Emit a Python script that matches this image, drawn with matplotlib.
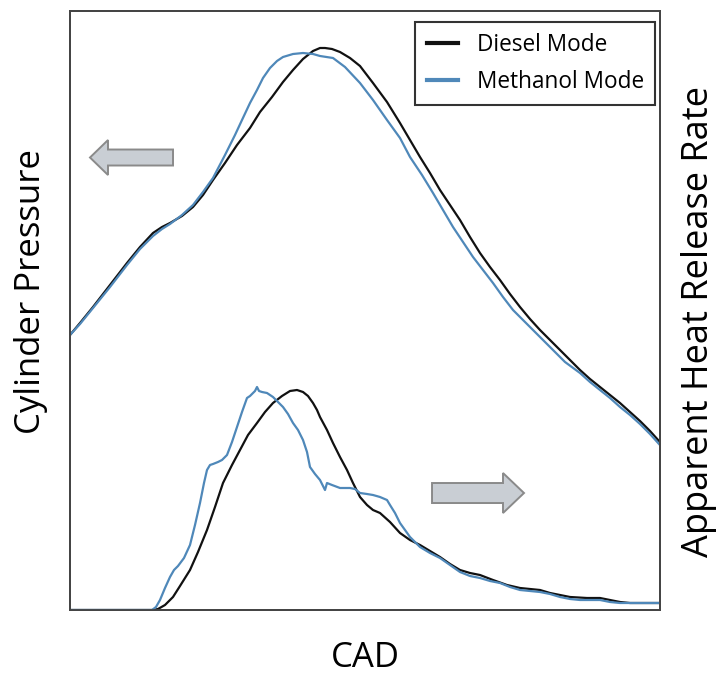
import matplotlib
matplotlib.use("Agg")
import matplotlib.pyplot as plt
from matplotlib.patches import Polygon

plt.rcParams['font.family'] = ['Open Sans', 'DejaVu Sans']

# Cylinder pressure (arbitrary units) vs crank angle (arbitrary units)
cad_p_diesel = [0, 10, 23, 40, 57, 70, 83, 92, 100, 112, 123, 133, 143, 155, 167, 180, 190,
                202, 213, 223, 233, 243, 250, 255, 262, 270, 280, 290, 303, 317, 330, 340,
                350, 360, 370, 380, 390, 400, 410, 420, 430, 440, 450, 460, 470, 480, 490,
                500, 510, 520, 530, 540, 550, 560, 570, 580, 589]
p_diesel = [275, 287, 303, 325, 347, 363, 377, 383, 387, 394, 403, 415, 430, 447, 465, 482, 498,
            513, 528, 540, 551, 559, 562, 562, 561, 558, 552, 544, 527, 508, 487, 470,
            453, 437, 420, 405, 390, 373, 357, 343, 330, 316, 303, 291, 280, 270, 260,
            250, 240, 231, 223, 215, 207, 198, 189, 179, 169]

cad_p_methanol = [0, 10, 23, 40, 57, 70, 83, 92, 100, 112, 123, 133, 143, 155, 165, 172, 180,
                  187, 193, 200, 207, 213, 223, 233, 243, 250, 263, 275, 290, 303, 317, 330,
                  340, 352, 363, 373, 383, 393, 403, 413, 423, 433, 443, 453, 463, 473, 483,
                  495, 510, 520, 530, 540, 550, 560, 570, 580, 589]
p_methanol = [275, 286, 302, 323, 345, 361, 374, 381, 386, 395, 405, 418, 432, 455, 475, 490, 507,
              520, 532, 542, 549, 553, 556, 557, 556, 554, 552, 543, 527, 510, 490, 472,
              453, 435, 417, 400, 383, 368, 353, 340, 327, 313, 300, 290, 280, 270, 260,
              248, 237, 228, 220, 212, 203, 195, 186, 176, 166]

# Apparent heat release rate (arbitrary units)
cad_h_diesel = [0, 83, 88, 95, 103, 110, 120, 128, 137, 145, 153, 162, 170, 178, 187, 195, 203,
                212, 220, 227, 233, 238, 243, 247, 250, 257, 263, 270, 277, 283, 290, 297,
                303, 310, 320, 330, 340, 350, 360, 370, 380, 390, 400, 410, 423, 437, 450,
                460, 470, 480, 490, 500, 517, 530, 540, 550, 560, 570, 589]
h_diesel = [0, 0, 1, 5, 13, 24, 40, 58, 80, 103, 127, 145, 160, 175, 187, 198, 207,
            214, 219, 220, 218, 214, 207, 200, 193, 180, 167, 153, 140, 127, 113, 105,
            100, 97, 88, 77, 70, 65, 59, 53, 46, 40, 37, 35, 30, 25, 22,
            21, 20, 17, 15, 13, 12, 12, 10, 8, 7, 7, 7]

cad_h_methanol = [0, 82, 86, 90, 95, 100, 104, 108, 114, 120, 125, 130, 134, 137, 140, 143, 148,
                  152, 157, 162, 167, 172, 177, 180, 182, 185, 187, 189, 192, 197, 203, 208,
                  213, 218, 223, 228, 233, 237, 240, 245, 250, 254, 255, 257, 262, 270, 280,
                  285, 290, 297, 303, 310, 317, 320, 325, 330, 340, 350, 360, 370, 380, 390,
                  400, 410, 420, 430, 440, 450, 460, 470, 480, 490, 500, 510, 520, 530, 540,
                  550, 570, 589]
h_methanol = [0, 0, 3, 10, 22, 33, 40, 44, 52, 65, 85, 107, 127, 140, 145, 146, 148,
              150, 155, 168, 183, 198, 212, 214, 216, 219, 223, 219, 218, 217, 213, 208,
              203, 196, 187, 180, 170, 158, 143, 136, 130, 122, 120, 127, 125, 122, 122,
              121, 117, 116, 115, 113, 110, 105, 97, 87, 73, 63, 57, 52, 45, 38,
              34, 32, 29, 27, 23, 20, 19, 18, 16, 13, 11, 10, 10, 10, 8,
              7, 7, 7]

series_labels = ["Diesel Mode", "Methanol Mode"]
c_diesel = "#111111"
c_methanol = "#4f88b9"

fig = plt.figure(figsize=(7.2, 6.77), dpi=100)
ax = fig.add_axes([70 / 720, 1 - 610 / 677, 590 / 720, 599 / 677])
ax2 = ax.twinx()

ax.plot(cad_p_diesel, p_diesel, color=c_diesel, lw=1.6, label=series_labels[0])
ax.plot(cad_p_methanol, p_methanol, color=c_methanol, lw=1.6, label=series_labels[1])
ax2.plot(cad_h_diesel, h_diesel, color=c_diesel, lw=1.6)
ax2.plot(cad_h_methanol, h_methanol, color=c_methanol, lw=1.6)

for a in (ax, ax2):
    a.set_xlim(0, 590)
    a.set_ylim(0, 599)
    a.set_xticks([])
    a.set_yticks([])
    for s in a.spines.values():
        s.set_color("#444444")
        s.set_linewidth(1.3)

ax.set_xlabel("CAD", fontsize=25, labelpad=22)
ax.set_ylabel("Cylinder Pressure", fontsize=25, labelpad=16, y=0.531)
ax2.set_ylabel("Apparent Heat Release Rate", fontsize=26, labelpad=15, y=0.481)


def block_arrow(axis, x_tail, x_tip, y, shaft_h, head_h, head_len):
    d = 1 if x_tip > x_tail else -1
    xb = x_tip - d * head_len
    verts = [(x_tail, y - shaft_h / 2), (xb, y - shaft_h / 2), (xb, y - head_h / 2),
             (x_tip, y), (xb, y + head_h / 2), (xb, y + shaft_h / 2),
             (x_tail, y + shaft_h / 2)]
    axis.add_patch(Polygon(verts, closed=True, transform=axis.transAxes,
                           facecolor="#c9ced4", edgecolor="#8a8a8a", lw=1.4,
                           zorder=5, clip_on=False))


# left arrow points to the pressure axis, right arrow to the heat release axis
block_arrow(ax2, 0.1746, 0.0339, 0.7554, 0.0267, 0.0584, 0.0305)
block_arrow(ax2, 0.6136, 0.7695, 0.1953, 0.0334, 0.0668, 0.0356)

leg = ax2.legend(*ax.get_legend_handles_labels(), loc="upper right",
                 bbox_to_anchor=(0.9915, 0.9816), bbox_transform=ax2.transAxes,
                 borderaxespad=0, fontsize=16.3, frameon=True, fancybox=False,
                 handlelength=1.4, borderpad=0.5, labelspacing=0.55, handletextpad=0.8)
leg.get_frame().set_edgecolor("black")
leg.get_frame().set_linewidth(1.5)
for h in leg.get_lines():
    h.set_linewidth(3)

fig.savefig("out.png", dpi=100, facecolor="white")
